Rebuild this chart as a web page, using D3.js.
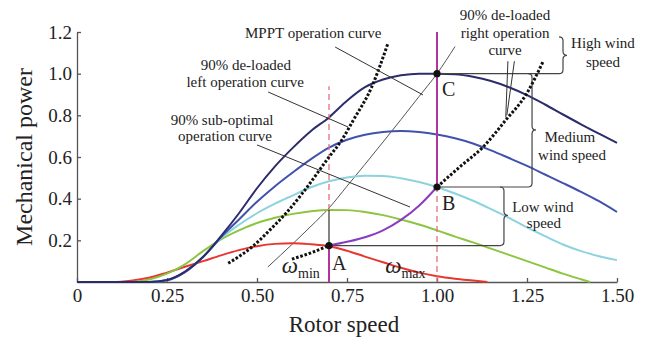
<!DOCTYPE html>
<html>
<head>
<meta charset="utf-8">
<script src="https://cdn.jsdelivr.net/npm/d3@7"></script>
<style>
  body { margin: 0; background: #fff; }
  svg { display: block; font-family: "Liberation Serif", "Times New Roman", serif; }
  .axis .domain, .axis line { stroke: #555; stroke-width: 1.3; }
  .axis text { fill: #222; }
</style>
</head>
<body>
<div id="chart"></div>
<script>
// power curves, [rotor speed, mechanical power]
const curveNavy = [[0,0],[0.2,0],[0.25,0.01],[0.3,0.05],[0.35,0.12],[0.4,0.22],[0.45,0.33],[0.5,0.45],[0.55,0.555],[0.6,0.645],[0.65,0.725],[0.7,0.79],[0.75,0.87],[0.8,0.935],[0.85,0.972],[0.9,0.992],[0.95,1.0],[1.0,1.0],[1.05,0.997],[1.1,0.985],[1.15,0.965],[1.2,0.935],[1.25,0.897],[1.3,0.852],[1.35,0.804],[1.4,0.757],[1.45,0.712],[1.5,0.668]];
const curveBlue = [[0,0],[0.2,0],[0.25,0.008],[0.3,0.047],[0.35,0.12],[0.4,0.215],[0.45,0.3],[0.5,0.385],[0.55,0.46],[0.6,0.527],[0.65,0.59],[0.7,0.645],[0.75,0.683],[0.8,0.707],[0.85,0.72],[0.9,0.725],[0.95,0.72],[1.0,0.708],[1.05,0.69],[1.1,0.665],[1.15,0.632],[1.2,0.595],[1.25,0.557],[1.3,0.516],[1.35,0.475],[1.4,0.433],[1.45,0.388],[1.5,0.336]];
const curveCyan = [[0,0],[0.2,0],[0.25,0.008],[0.3,0.047],[0.35,0.12],[0.4,0.21],[0.45,0.275],[0.5,0.33],[0.55,0.376],[0.6,0.416],[0.65,0.455],[0.7,0.484],[0.75,0.502],[0.8,0.51],[0.85,0.509],[0.9,0.498],[0.95,0.48],[1.0,0.456],[1.05,0.425],[1.1,0.39],[1.15,0.35],[1.2,0.308],[1.25,0.262],[1.3,0.22],[1.35,0.18],[1.4,0.148],[1.45,0.124],[1.5,0.105]];
const curveGreen = [[0,0],[0.15,0],[0.2,0.012],[0.25,0.04],[0.3,0.085],[0.35,0.148],[0.4,0.205],[0.45,0.248],[0.5,0.283],[0.55,0.308],[0.6,0.327],[0.65,0.34],[0.7,0.346],[0.75,0.345],[0.8,0.336],[0.85,0.321],[0.9,0.3],[0.95,0.276],[1.0,0.248],[1.05,0.218],[1.1,0.19],[1.15,0.16],[1.2,0.13],[1.25,0.1],[1.3,0.07],[1.35,0.04],[1.4,0.013],[1.425,0]];
const curveRed = [[0,0],[0.1,0],[0.15,0.006],[0.2,0.02],[0.25,0.045],[0.3,0.073],[0.35,0.1],[0.4,0.128],[0.45,0.153],[0.5,0.172],[0.55,0.183],[0.6,0.186],[0.65,0.181],[0.7,0.172],[0.75,0.15],[0.8,0.122],[0.85,0.095],[0.9,0.068],[0.95,0.045],[1.0,0.028],[1.05,0.016],[1.1,0.007],[1.14,0]];

// operation curves
const mpptCurve = [[0.53,0.072],[0.6,0.185],[0.65,0.268],[0.7,0.355],[0.75,0.46],[0.8,0.565],[0.85,0.672],[0.9,0.78],[0.95,0.89],[1.0,1.0],[1.05,1.13]];
const leftDeloaded = [[0.42,0.09],[0.486,0.168],[0.536,0.25],[0.583,0.335],[0.628,0.43],[0.7,0.6],[0.735,0.68],[0.767,0.775],[0.817,0.93],[0.864,1.147]];
const rightDeloadedLow = [[0.597,0.11],[0.65,0.14],[0.7,0.175]];
const rightDeloadedHigh = [[1.0,0.456],[1.065,0.555],[1.128,0.648],[1.19,0.775],[1.25,0.907],[1.294,1.056]];
const subOptimal = [[0.7,0.175],[0.75,0.193],[0.8,0.215],[0.85,0.248],[0.9,0.298],[0.95,0.366],[1.0,0.456]];

const omegaMin = 0.7;
const omegaMax = 1.0;
const pointA = [0.7, 0.175];
const pointB = [1.0, 0.456];
const pointC = [1.0, 1.0];

const xTicks = [0, 0.25, 0.5, 0.75, 1.0, 1.25, 1.5];
const xTickLabels = ['0', '0.25', '0.50', '0.75', '1.00', '1.25', '1.50'];
const yTicks = [0.2, 0.4, 0.6, 0.8, 1.0, 1.2];
const yTickLabels = ['0.2', '0.4', '0.6', '0.8', '1.0', '1.2'];

const noteLines = [
  ['MPPT operation curve', 0.656, 1.171],
  ['90% de-loaded', 0.469, 1.018],
  ['left operation curve', 0.467, 0.936],
  ['90% sub-optimal', 0.403, 0.754],
  ['operation curve', 0.411, 0.677],
  ['90% de-loaded', 1.189, 1.258],
  ['right operation', 1.189, 1.171],
  ['curve', 1.189, 1.09],
  ['High wind', 1.461, 1.123],
  ['speed', 1.461, 1.032],
  ['Medium', 1.369, 0.672],
  ['wind speed', 1.375, 0.586],
  ['Low wind', 1.294, 0.336],
  ['speed', 1.297, 0.259],
];
const pointers = [
  [[0.717, 1.128], [0.961, 0.898]],
  [[0.531, 0.912], [0.753, 0.744]],
  [[0.5, 0.658], [0.925, 0.36]],
  [[1.197, 1.06], [1.191, 0.79]],
  [[1.215, 1.06], [1.194, 0.8]],
];
const braces = [
  { x: 1.35, top: 1.177, bottom: 1.0, tip: 1.088 },
  { x: 1.264, top: 1.0, bottom: 0.456, tip: 0.73 },
  { x: 1.186, top: 0.456, bottom: 0.175, tip: 0.32 },
];

const width = 646, height = 338;
const margin = { top: 32, right: 29, bottom: 56, left: 77 };

const x = d3.scaleLinear().domain([0, 1.5]).range([margin.left, width - margin.right]);
const y = d3.scaleLinear().domain([0, 1.2]).range([height - margin.bottom, margin.top]);

const svg = d3.select('#chart').append('svg').attr('width', width).attr('height', height);

const line = d3.line().x((d) => x(d[0])).y((d) => y(d[1])).curve(d3.curveMonotoneX);

// axes (ticks point inward)
svg.append('g')
  .attr('class', 'axis')
  .attr('transform', `translate(0,${y(0)})`)
  .call(d3.axisBottom(x).tickValues(xTicks).tickFormat((d, i) => xTickLabels[i]).tickSizeInner(-4).tickSizeOuter(0).tickPadding(7))
  .attr('font-family', null)
  .attr('font-size', 19);
svg.append('g')
  .attr('class', 'axis')
  .attr('transform', `translate(${x(0)},0)`)
  .call(d3.axisLeft(y).tickValues(yTicks).tickFormat((d, i) => yTickLabels[i]).tickSizeInner(-4).tickSizeOuter(0).tickPadding(5))
  .attr('font-family', null)
  .attr('font-size', 19);

// thin MPPT curve
svg.append('path').attr('d', line(mpptCurve)).attr('fill', 'none').attr('stroke', '#555').attr('stroke-width', 1);

// power curves
const curves = [
  [curveRed, '#e8362f'],
  [curveGreen, '#8cc53f'],
  [curveCyan, '#8dd3df'],
  [curveBlue, '#4152ad'],
  [curveNavy, '#2c2c6c'],
];
for (const [pts, col] of curves) {
  svg.append('path').attr('d', line(pts)).attr('fill', 'none').attr('stroke', col).attr('stroke-width', 2);
}

// vertical guides at omega min / max
const greenAtMin = 0.346;
const vSegs = [
  [omegaMin, greenAtMin, 0.94, 'dash'],
  [omegaMin, pointA[1], greenAtMin, 'black'],
  [omegaMin, 0, pointA[1], 'mag'],
  [omegaMax, 0, pointB[1], 'dash'],
  [omegaMax, pointB[1], 1.2, 'mag'],
];
for (const [w, a, b, kind] of vSegs) {
  const l = svg.append('line')
    .attr('x1', x(w)).attr('x2', x(w)).attr('y1', y(a)).attr('y2', y(b));
  if (kind === 'dash') l.attr('stroke', '#e3707c').attr('stroke-width', 1.3).attr('stroke-dasharray', '6,4');
  else if (kind === 'black') l.attr('stroke', '#333').attr('stroke-width', 1.2);
  else l.attr('stroke', '#b0359e').attr('stroke-width', 2);
}

// horizontal lines from A, B, C to the braces, then the braces
const r = 4;
const hLines = [[pointC, braces[0].x], [pointB, braces[1].x], [pointA, braces[2].x]];
for (const [p, bx] of hLines) {
  svg.append('line').attr('x1', x(p[0])).attr('x2', x(bx) - r).attr('y1', y(p[1])).attr('y2', y(p[1]))
    .attr('stroke', '#444').attr('stroke-width', 1.2);
}
for (const b of braces) {
  const X = x(b.x), T = y(b.top), B = y(b.bottom), M = y(b.tip);
  const d = `M${X - r},${T} Q${X},${T} ${X},${T + r} L${X},${M - r} Q${X},${M} ${X + r},${M} Q${X},${M} ${X},${M + r} L${X},${B - r} Q${X},${B} ${X - r},${B}`;
  svg.append('path').attr('d', d).attr('fill', 'none').attr('stroke', '#444').attr('stroke-width', 1.2);
}

// sub-optimal curve A -> B
svg.append('path').attr('d', line(subOptimal)).attr('fill', 'none').attr('stroke', '#8a3cbf').attr('stroke-width', 2);

// dotted de-loaded curves
for (const pts of [leftDeloaded, rightDeloadedLow, rightDeloadedHigh]) {
  svg.append('path').attr('d', line(pts)).attr('fill', 'none').attr('stroke', '#111')
    .attr('stroke-width', 3).attr('stroke-dasharray', '2.6,1.8');
}

// pointer lines
for (const [p0, p1] of pointers) {
  svg.append('line').attr('x1', x(p0[0])).attr('y1', y(p0[1])).attr('x2', x(p1[0])).attr('y2', y(p1[1]))
    .attr('stroke', '#333').attr('stroke-width', 1);
}

// operating points
for (const p of [pointA, pointB, pointC]) {
  svg.append('circle').attr('cx', x(p[0])).attr('cy', y(p[1])).attr('r', 3.6).attr('fill', '#111');
}

// annotation text
for (const [t, wx, py] of noteLines) {
  svg.append('text').attr('x', x(wx)).attr('y', y(py)).attr('text-anchor', 'middle')
    .attr('font-size', 15).attr('fill', '#222').text(t);
}

const pointLabels = [['A', pointA, 3, 24], ['B', pointB, 5, 23], ['C', pointC, 5, 22]];
for (const [t, p, dx, dy] of pointLabels) {
  svg.append('text').attr('x', x(p[0]) + dx).attr('y', y(p[1]) + dy).attr('font-size', 20).attr('fill', '#222').text(t);
}

const omegaLabels = [['min', 0.569], ['max', 0.856]];
for (const [sub, wx] of omegaLabels) {
  const t = svg.append('text').attr('x', x(wx)).attr('y', y(0.043)).attr('fill', '#222');
  t.append('tspan').attr('font-size', 23).attr('font-style', 'italic').text('\u03c9');
  t.append('tspan').attr('font-size', 14).attr('dy', 5).text(sub);
}

// axis titles
svg.append('text').attr('x', 344).attr('y', 332).attr('text-anchor', 'middle').attr('font-size', 23).attr('fill', '#222').text('Rotor speed');
svg.append('text').attr('transform', 'translate(32,157) rotate(-90)').attr('text-anchor', 'middle').attr('font-size', 24).attr('fill', '#222').text('Mechanical power');
</script>
</body>
</html>
